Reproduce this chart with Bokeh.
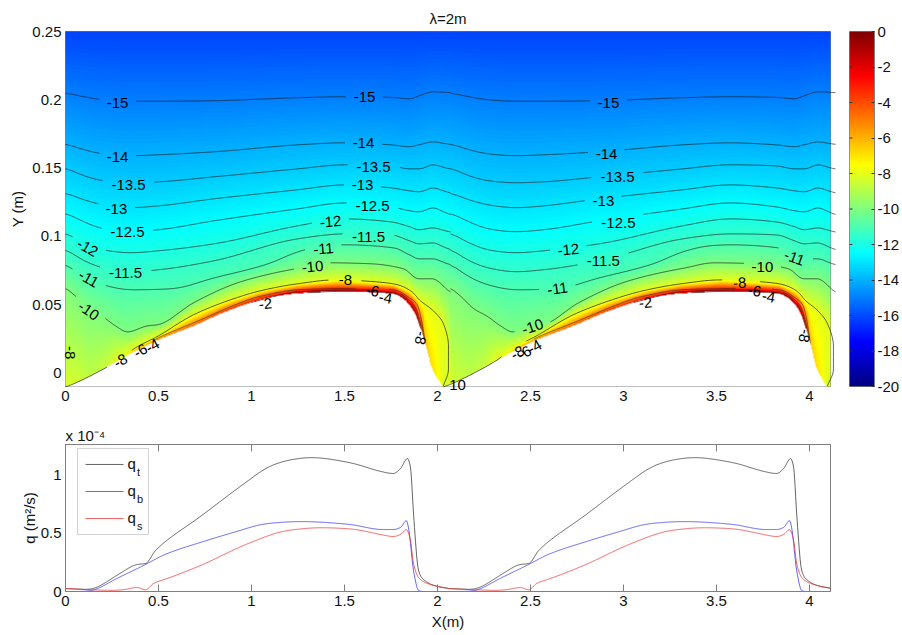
import numpy as np
from bokeh.plotting import figure
from bokeh.layouts import column, row
from bokeh.models import (ColumnDataSource, FixedTicker, LinearAxis, LinearColorMapper,
                          BoxAnnotation, Range1d, Title)
from bokeh.core.properties import value
from bokeh.embed import file_html
from bokeh.resources import INLINE

TITLE = "λ=2m"
X_MAX, Y_MIN, Y_MAX = 4.113, -0.01, 0.25
PERIOD = 2.07
X_TICKS = [0, 0.5, 1, 1.5, 2, 2.5, 3, 3.5, 4]
Y_TICKS = [0, 0.05, 0.1, 0.15, 0.2, 0.25]
Q_TICKS = [0, 0.5, 1]
CB_TICKS = [-20, -18, -16, -14, -12, -10, -8, -6, -4, -2, 0]

# upper contours (x in m, y in m)
X_UP = [0, .10, .20, .35, .50, .80, 1.25, 1.50, 1.75, 1.85, 1.90, 1.98, 2.07]
Y_M15 = [.2051, .2022, .2000, .1989, .1989, .1993, .2015, .2022, .2018, .2007, .2029, .2059, .2051]
Y_M14 = [.1678, .1634, .1604, .1590, .1597, .1619, .1670, .1685, .1670, .1656, .1670, .1692, .1670]
Y_M135 = [.1502, .1443, .1407, .1392, .1399, .1436, .1494, .1524, .1516, .1494, .1494, .1524, .1487]
Y_M13 = [.1319, .1267, .1231, .1209, .1223, .1275, .1341, .1377, .1355, .1333, .1326, .1355, .1311]
Y_M125 = [.1172, .1106, .1055, .1033, .1048, .1114, .1201, .1245, .1216, .1187, .1179, .1209, .1150]
Y_M12 = [.1026, .0952, .0901, .0879, .0894, .0945, .1077, .1128, .1106, .1070, .1048, .1062, .1026]
Y_M115 = [.0908, .0821, .0769, .0740, .0755, .0821, .0982, .1018, .1011, .0967, .0945, .0952, .0894]
X_M11 = [0, .10, .20, .35, .565, .80, 1.09, 1.25, 1.387, 1.5, 1.763, 1.85, 1.90, 1.98, 2.07]
Y_M11 = [.0799, .0703, .0645, .0608, .0615, .0696, .0798, .0887, .0930, .0938, .0916, .0864, .0835, .0835, .0784]
X_M10 = [0, .065, .124, .194, .269, .333, .441, .495, .688, .924, 1.102, 1.263, 1.414, 1.64, 1.817, 1.898, 1.973, 2.07]
Y_M10 = [.0623, .0549, .0469, .0418, .0344, .0300, .0344, .0352, .0513, .0659, .0725, .0769, .0806, .0799, .0762, .0689, .0689, .0586]

# bed profile and field value on the bed
X_BED = [0, .043, .134, .28, .376, .5, .688, .871, 1.048, 1.14, 1.226, 1.409, 1.586, 1.763, 1.817, 1.871, 1.909, 1.946, 1.962, 2.027]
Y_BED = [-.0103, -.0081, -.0022, .0088, .0161, .0242, .0344, .0454, .0535, .0564, .0579, .0593, .0593, .0579, .0542, .0454, .0330, .0161, .0066, -.0103]
X_BV = [0, .054, .134, .215, .28, .323, .376, .43, .5, .688, .871, 1.048, 1.263, 1.747, 1.839, 1.892, 1.925, 1.962, 1.995, 2.032]
V_BED = [-8.2, -8.4, -8.8, -8.6, -8.0, -7, -6, -5.6, -5, -4.5, -3.5, -2.5, -1.5, -1, -1.2, -3.5, -6, -6.8, -7.3, -8.2]
V_TOP = -16.2

# near-bed contours
X_M8 = [0, .043, .134, .28, .376, .5, .688, .871, 1.048, 1.247, 1.462, 1.763, 1.855, 1.909, 1.978, 2.032, 2.059, 2.059, 2.032]
Y_M8 = [-.0103, -.0081, -.0022, .0088, .0183, .0271, .0425, .0527, .0601, .0652, .0681, .0652, .0601, .0527, .0454, .0359, .0198, .0029, -.0095]
X_M6 = [.376, .5, .688, 1.048, 1.263, 1.586, 1.763, 1.839, 1.892, 1.919, 1.935]
H_M6 = [0, .0015, .0022, .0026, .0026, .0026, .0029, .0044, .0103, .0059, 0]
X_M4 = [1.0, 1.263, 1.586, 1.763, 1.839, 1.882, 1.909, 1.93]
H_M4 = [0, .0012, .0015, .0016, .0029, .0051, .0037, 0]
X_M2 = [1.3, 1.5, 1.747, 1.839, 1.882, 1.91]
H_M2 = [0, .0004, .0006, .0015, .0022, 0]
X_EDGE = [.004, .004]
Y_EDGE = [.0249, .0088]
WARP_1 = [0, .306, .484, .946, 1.675, 1.866, 2.032, 2.06]
WARP_2 = [2.032, 2.34, 2.516, 3.0, 3.75, 3.94, 4.097, 4.13]

# contour labels: text, x, y, angle (degrees)
LABELS = [
    ("-15", .28, .1978, 0), ("-15", 1.608, .2022, 0), ("-15", 2.919, .1978, 0),
    ("-14", .28, .1582, 0), ("-14", 1.602, .1685, 0), ("-14", 2.909, .1604, 0),
    ("-13.5", .339, .1377, 0), ("-13.5", 1.656, .1509, 0), ("-13.5", 2.968, .1436, 0),
    ("-13", .274, .1201, 0), ("-13", 1.597, .1377, 0), ("-13", 2.892, .1260, 0),
    ("-12.5", .333, .1033, 0), ("-12.5", 1.651, .1223, 0), ("-12.5", 2.973, .1099, 0),
    ("-12", .118, .0916, -30), ("-12", 1.425, .1106, 5), ("-12", 2.704, .0901, 5),
    ("-11.5", .323, .0733, 0), ("-11.5", 1.629, .0996, 0), ("-11.5", 2.892, .0821, 0),
    ("-11", .124, .0689, -30), ("-11", 1.387, .0908, 5), ("-11", 2.645, .0615, 8), ("-11", 3.919, .0842, -20),
    ("-10", .124, .0454, -35), ("-10", 1.328, .0777, 5), ("-10", 2.511, .0337, 18), ("-10", 3.747, .0777, 0),
    ("10", 2.108, -.0092, 0),
    ("-8", .296, .0088, 30), ("-8", 1.505, .0681, 0), ("-8", 2.43, .0147, 30), ("-8", 3.624, .0659, 3),
    ("-8", .022, .0147, -90), ("-8", 1.909, .0256, -100), ("-8", 3.973, .0271, -100),
    ("-6", .403, .0161, 30), ("-6", 1.651, .0601, -10), ("-6", 2.468, .0147, 30), ("-6", 3.704, .0601, -10),
    ("-4", .468, .0198, 30), ("-4", 1.72, .0549, -10), ("-4", 2.522, .019, 30), ("-4", 3.78, .0557, -10),
    ("-2", 1.075, .0505, 5), ("-2", 3.118, .0513, 5),
]

# discharge per wave, in units of 1e-4 m2/s
Q_PERIOD = 2.06
X_QT = [0, .134, .258, .387, .43, .484, .726, .995, 1.086, 1.194, 1.317, 1.532, 1.694, 1.763, 1.801, 1.839, 1.855, 1.871, 1.898, 1.919, 2.0, 2.06]
V_QT = [.026, .017, .121, .233, .241, .353, .647, .97, 1.07, 1.13, 1.155, 1.11, 1.035, 1.017, 1.06, 1.147, 1.07, .672, .181, .112, .043, .026]
X_QB = [0, .08, .151, .242, .419, .548, .726, .903, 1.086, 1.263, 1.532, 1.694, 1.763, 1.801, 1.833, 1.844, 1.871, 1.898, 1.919, 2.06]
V_QB = [0, 0, .009, .085, .224, .328, .423, .509, .586, .603, .578, .534, .534, .552, .612, .552, .181, .009, 0, 0]
X_QS = [0, .151, .28, .387, .43, .473, .548, .726, .995, 1.194, 1.371, 1.532, 1.694, 1.763, 1.801, 1.833, 1.855, 1.871, 1.898, 1.946, 2.06]
V_QS = [.026, .014, .009, .034, .014, .069, .112, .224, .422, .526, .55, .54, .491, .474, .491, .534, .44, .241, .121, .069, .026]

FONT = "Liberation Sans"
GREY = "#7f7f7f"
PX_X, PX_Y = 765 / X_MAX, 355 / (Y_MAX - Y_MIN)


def jet(n=256):
    out = []
    for i in range(n):
        t = i / (n - 1)
        r = np.clip(min(4 * t - 1.5, 4.5 - 4 * t), 0, 1)
        g = np.clip(min(4 * t - 0.5, 3.5 - 4 * t), 0, 1)
        b = np.clip(min(4 * t + 0.5, 2.5 - 4 * t), 0, 1)
        out.append("#%02x%02x%02x" % (int(r * 255), int(g * 255), int(b * 255)))
    return out


def pchip(x, y, xq):
    x, y = np.asarray(x, float), np.asarray(y, float)
    h = np.diff(x)
    d = np.diff(y) / h
    m = np.zeros_like(y)
    m[0], m[-1] = d[0], d[-1]
    for i in range(1, len(x) - 1):
        if d[i - 1] * d[i] > 0:
            w1, w2 = 2 * h[i] + h[i - 1], h[i] + 2 * h[i - 1]
            m[i] = (w1 + w2) / (w1 / d[i - 1] + w2 / d[i])
    idx = np.clip(np.searchsorted(x, xq) - 1, 0, len(h) - 1)
    s = (xq - x[idx]) / h[idx]
    return ((1 + 2 * s) * (1 - s) ** 2 * y[idx] + s * (1 - s) ** 2 * h[idx] * m[idx]
            + s ** 2 * (3 - 2 * s) * y[idx + 1] + s ** 2 * (s - 1) * h[idx] * m[idx + 1])


def box(yd, win):
    pad = win // 2
    yp = np.pad(yd, pad, mode="edge")
    return np.convolve(yp, np.ones(win) / win, mode="valid")


def smooth(xk, yk, win=5, wide=None, sharp=()):
    """Dense curve through the read knots: wider averaging outside the sharp spans."""
    xd = np.arange(xk[0], xk[-1] + 1e-9, 1 / 372)
    yd = pchip(xk, yk, xd)
    out = box(yd, win)
    if wide:
        w = box(yd, wide)
        fade = np.zeros_like(xd)
        for lo, hi in sharp:
            fade = np.maximum(fade, np.clip(np.minimum(xd - lo, hi - xd) / .06, 0, 1))
        out = fade * out + (1 - fade) * w
    return xd, out


def warp(x):
    return np.interp(x, WARP_2, WARP_1)


UP_LEVELS = [(-15, X_UP, Y_M15), (-14, X_UP, Y_M14), (-13.5, X_UP, Y_M135), (-13, X_UP, Y_M13),
             (-12.5, X_UP, Y_M125), (-12, X_UP, Y_M12), (-11.5, X_UP, Y_M115),
             (-11, X_M11, Y_M11)]
UP_SMOOTH = [(lv, *smooth(a, b, 7, 37, [(1.72, 2.03)])) for lv, a, b in UP_LEVELS]
UP_SMOOTH.append((-10, *smooth(X_M10, Y_M10, 7, 19, [(.2, .55), (1.72, 2.03)])))
BX, BY = smooth(X_BED, Y_BED, 3, 13, [(1.72, 2.1)])

# monotonic part of the -8 contour for the field, closed down to the bed
F8_X = X_M8[3:17] + [2.072]
F8_Y = Y_M8[3:17] + [-.0103]

xs = (np.arange(765) + .5) / PX_X
ys = Y_MIN + (np.arange(355) + .5) / PX_Y
F = np.full((355, 765), np.nan, dtype=np.float32)
for i, x in enumerate(xs):
    u = x if x <= PERIOD else x - PERIOD
    xb = x if x < 2.03 else float(warp(x))
    x8 = x if x < 2.072 else float(warp(x))
    bed = float(np.interp(xb, BX, BY))
    bv = float(np.interp(xb, X_BV, V_BED))
    py, pv = [bed], [bv]
    for lv, xa, ha in ((-2, X_M2, H_M2), (-4, X_M4, H_M4), (-6, X_M6, H_M6)):
        if xa[0] < xb < xa[-1] and lv > bv:
            y = bed + float(np.interp(xb, xa, ha))
            if y > py[-1]:
                py.append(y); pv.append(lv)
    if F8_X[0] < x8 < F8_X[-1]:
        y = float(np.interp(x8, F8_X, F8_Y))
        if y > py[-1]:
            py.append(y); pv.append(-8)
    for lv, xd, yd in reversed(UP_SMOOTH):
        y = float(np.interp(u, xd, yd))
        if y > py[-1]:
            py.append(y); pv.append(lv)
    py.append(Y_MAX + .001); pv.append(V_TOP)
    col = np.interp(ys, py, pv)
    col[ys < bed] = np.nan
    F[:, i] = col

JET = jet()
mapper = LinearColorMapper(palette=JET, low=-20, high=0, nan_color="white")


def overrides(ticks):
    return {t: ("%g" % t) for t in ticks}


def broken(x, y, text_set):
    """Dense line with a gap around each of its level's labels."""
    x, y = np.asarray(x, float), np.asarray(y, float)
    t = np.arange(len(x), dtype=float)
    td = np.linspace(0, len(x) - 1, (len(x) - 1) * 10 + 1)
    if len(x) > 2:
        xd, yd = pchip(t, x, td), pchip(t, y, td)
    else:
        xd, yd = np.interp(td, t, x), np.interp(td, t, y)
    for txt, lx, ly, _ in LABELS:
        if txt in text_set:
            r = len(txt) * 3.8 + 7
            d = np.hypot((xd - lx) * PX_X, (yd - ly) * PX_Y)
            yd = np.where(d < r, np.nan, yd)
    return xd, yd


p1 = figure(width=849, height=418, output_backend="svg", toolbar_location=None,
            x_range=Range1d(0, X_MAX), y_range=Range1d(Y_MIN, Y_MAX),
            min_border_left=65, min_border_right=19, min_border_top=31, min_border_bottom=32,
            background_fill_color="white", outline_line_color=GREY)
p1.grid.visible = False
p1.add_layout(Title(text=TITLE, align="center", text_font=FONT, text_font_size="15px",
                    text_font_style="normal", text_color="#111111", standoff=9), "above")
img = p1.image(image=[F], x=0, y=Y_MIN, dw=X_MAX, dh=Y_MAX - Y_MIN, color_mapper=mapper, level="overlay")

LINE = dict(line_color="#1c1c1c", line_width=0.7, level="overlay")
THIN = dict(line_color="#1c1c1c", line_width=0.5, level="overlay")
NAMES = {-15: "-15", -14: "-14", -13.5: "-13.5", -13: "-13", -12.5: "-12.5", -12: "-12",
         -11.5: "-11.5", -11: "-11", -10: "-10"}
for lv, xd, yd in UP_SMOOTH:
    for shift in (0, PERIOD):
        xg, yg = xd + shift, yd.copy()
        for txt, lx, ly, _ in LABELS:
            if txt == NAMES[lv]:
                d = np.hypot((xg - lx) * PX_X, (yg - ly) * PX_Y)
                yg = np.where(d < len(txt) * 3.8 + 7, np.nan, yg)
        p1.line(xg, yg, **LINE)

for name, xa, ha in (("-2", X_M2, H_M2), ("-4", X_M4, H_M4), ("-6", X_M6, H_M6)):
    hy = np.asarray(ha) + np.interp(xa, BX, BY)
    a, b = broken(xa, hy, {name})
    p1.line(a, b, **THIN)
    a, b = broken(np.interp(xa, WARP_1, WARP_2), hy, {name})
    p1.line(a, b, **THIN)
a, b = broken(X_M8, Y_M8, {"-8"})
p1.line(a, b, **LINE)
a, b = broken(np.interp(X_M8, WARP_1, WARP_2), Y_M8, {"-8"})
p1.line(a, b, **LINE)
a, b = broken(X_EDGE, Y_EDGE, {"-8"})
p1.line(a, b, **LINE)

src = ColumnDataSource(dict(t=[l[0] for l in LABELS], x=[l[1] for l in LABELS], y=[l[2] for l in LABELS],
                            a=[np.deg2rad(l[3]) for l in LABELS]))
p1.text("x", "y", text="t", angle="a", source=src, text_font=value(FONT), text_font_size="15px",
        text_color="black", text_align="center", text_baseline="middle", level="overlay")

TICK_TEXT = dict(major_label_text_font=FONT, major_label_text_font_size="15px", major_label_text_color="#111111")
AXLBL = dict(axis_label_text_font=FONT, axis_label_text_font_size="15px", axis_label_text_font_style="normal",
             axis_label_text_color="#111111")
p1.xaxis.ticker = FixedTicker(ticks=X_TICKS)
p1.xaxis.major_label_overrides = overrides(X_TICKS)
p1.yaxis.ticker = FixedTicker(ticks=Y_TICKS)
p1.yaxis.major_label_overrides = overrides(Y_TICKS)
for ax in (p1.xaxis[0], p1.yaxis[0]):
    ax.update(axis_line_color=GREY, major_tick_line_color=GREY, minor_tick_line_color=None,
              major_tick_in=7, major_tick_out=0, major_label_standoff=4, **TICK_TEXT)
p1.yaxis[0].major_tick_in = 0
p1.yaxis[0].update(axis_label="Y (m)", axis_label_standoff=3, **AXLBL)

# colour bar
cb = figure(width=53, height=418, output_backend="svg", toolbar_location=None,
            x_range=Range1d(0, 1), y_range=Range1d(-20, 0), y_axis_location="right",
            min_border_left=0, min_border_right=27, min_border_top=31, min_border_bottom=32,
            outline_line_color=GREY)
cb.grid.visible = False
cb.xaxis.visible = False
cb.image(image=[np.linspace(-20, 0, 256).reshape(256, 1)], x=0, y=-20, dw=1, dh=20, color_mapper=mapper)
cb.segment(x0=[0] * 9, x1=[.12] * 9, y0=CB_TICKS[1:-1], y1=CB_TICKS[1:-1], line_color="#333333", line_width=1)
cb.yaxis.ticker = FixedTicker(ticks=CB_TICKS)
cb.yaxis.major_label_overrides = overrides(CB_TICKS)
cb.yaxis[0].update(axis_line_color=GREY, major_tick_line_color="#333333", minor_tick_line_color=None,
                   major_tick_in=3, major_tick_out=0, major_label_standoff=3, **TICK_TEXT)

# lower panel
p2 = figure(width=902, height=217, output_backend="svg", toolbar_location=None,
            x_range=Range1d(0, X_MAX), y_range=Range1d(0, 1.267),
            min_border_left=65, min_border_right=72, min_border_top=26, min_border_bottom=44,
            outline_line_color=GREY)
p2.grid.visible = False
for xk, vk, c in ((X_QT, V_QT, "#222222"), (X_QB, V_QB, "#2222ee"), (X_QS, V_QS, "#ee2222")):
    xd, vd = smooth(xk, vk, 3, 37, [(.3, .58), (1.66, 2.15)])
    p2.line(np.concatenate([xd, xd + Q_PERIOD]), np.concatenate([vd, vd]), line_color=c, line_width=0.7)

p2.xaxis.ticker = FixedTicker(ticks=X_TICKS)
p2.xaxis.major_label_overrides = overrides(X_TICKS)
p2.yaxis.ticker = FixedTicker(ticks=Q_TICKS)
p2.yaxis.major_label_overrides = overrides(Q_TICKS)
for ax in (p2.xaxis[0], p2.yaxis[0]):
    ax.update(axis_line_color=GREY, major_tick_line_color=GREY, minor_tick_line_color=None,
              major_tick_in=7, major_tick_out=0, major_label_standoff=4, **TICK_TEXT)
p2.yaxis[0].major_tick_in = 0
p2.yaxis[0].update(axis_label="q (m²/s)", axis_label_standoff=0, **AXLBL)
p2.xaxis[0].update(axis_label="X(m)", axis_label_standoff=4, **AXLBL)
top = LinearAxis(ticker=FixedTicker(ticks=X_TICKS), major_label_overrides={t: "" for t in X_TICKS},
                 axis_line_color=GREY, major_tick_line_color=GREY, minor_tick_line_color=None,
                 major_tick_in=7, major_tick_out=0, major_label_standoff=0, major_label_text_font_size="1px")
p2.add_layout(top, "above")
p2.add_layout(Title(text="x 10⁻⁴", align="left", offset=0, text_font=FONT, text_font_size="15px",
                    text_font_style="normal", text_color="#111111", standoff=2), "above")

# legend
p2.add_layout(BoxAnnotation(left=.065, right=.446, top=1.233, bottom=.491, fill_color="white", fill_alpha=1,
                            line_color="#666666", line_width=1))
KEYS = [("t", "#222222", 1.095), ("b", "#2222ee", .862), ("s", "#ee2222", .629)]
for sub, c, v in KEYS:
    p2.line([.108, .312], [v, v], line_color=c, line_width=0.7, level="overlay")
    p2.text([.333], [v + .01], text=["q"], text_font=value(FONT), text_font_size="15px", text_color="#111111",
            text_baseline="middle", level="overlay")
    p2.text([.384], [v - .065], text=[sub], text_font=value(FONT), text_font_size="11px", text_color="#111111",
            text_baseline="middle", level="overlay")

root = column(row(p1, cb), p2)
open("out.html", "w").write(file_html(root, INLINE))
